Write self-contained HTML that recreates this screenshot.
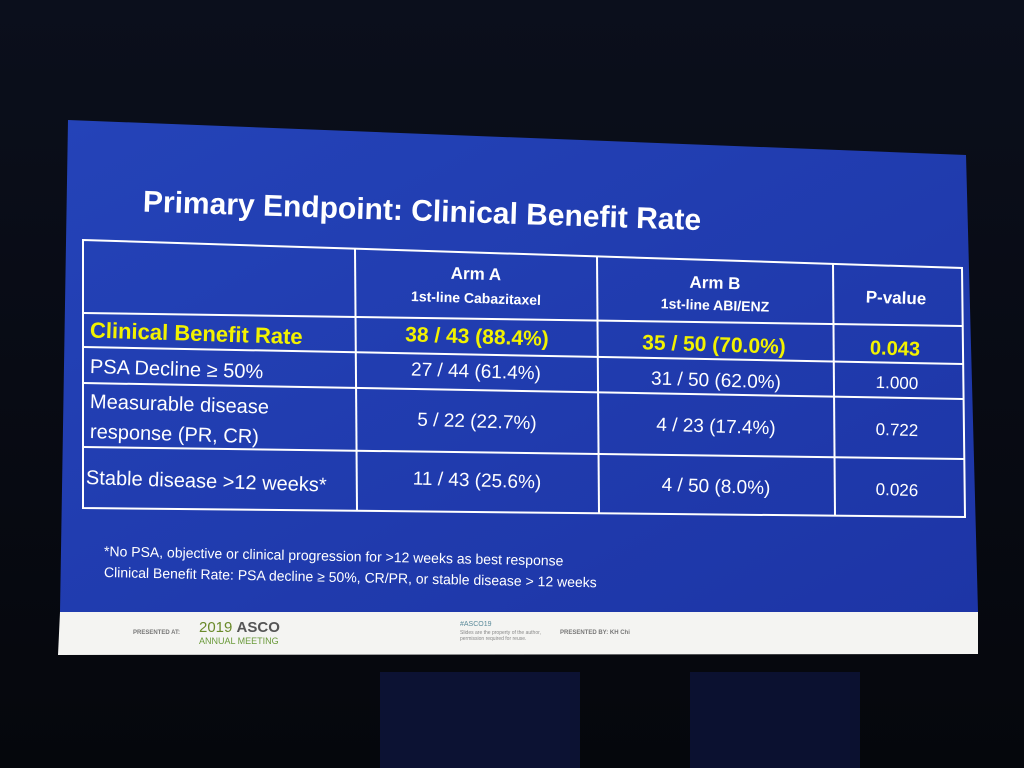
<!DOCTYPE html>
<html><head><meta charset="utf-8"><style>
html,body{margin:0;padding:0;background:#07090f;width:1024px;height:768px;overflow:hidden}
svg{display:block}
text{font-family:"Liberation Sans",sans-serif;fill:#fff}
</style></head><body>
<svg width="1024" height="768" viewBox="0 0 1024 768">
<defs>
<linearGradient id="bg" x1="0" y1="0" x2="0" y2="1"><stop offset="0" stop-color="#0b0f1c"/><stop offset="1" stop-color="#05070c"/></linearGradient>
<linearGradient id="sl" x1="0" y1="0" x2="1" y2="1"><stop offset="0" stop-color="#2443b8"/><stop offset="1" stop-color="#1d35a6"/></linearGradient>
</defs>
<rect width="1024" height="768" fill="url(#bg)"/>
<rect x="380" y="672" width="200" height="96" fill="#0c1233"/>
<rect x="690" y="672" width="170" height="96" fill="#0b1130"/>
<polygon points="68,120 966,155 978,612 60,612" fill="url(#sl)"/>
<polygon points="60,612 978,612 978,654 58,655" fill="#f4f4f2"/>

<g stroke="#fff" stroke-width="2" fill="none">
<polygon points="83,240 962,268 965,517 83,508"/>
<line x1="355" y1="249" x2="357" y2="511"/>
<line x1="597" y1="256" x2="599" y2="513"/>
<line x1="833" y1="264" x2="835" y2="516"/>
<line x1="83" y1="313" x2="962" y2="326"/>
<line x1="83" y1="347" x2="963" y2="364"/>
<line x1="83" y1="383" x2="963" y2="399"/>
<line x1="83" y1="447" x2="964" y2="459"/>
</g>

<text x="143" y="202" font-size="30" font-weight="bold" dominant-baseline="central" transform="rotate(1.9 143 202)">Primary Endpoint: Clinical Benefit Rate</text>

<g font-weight="bold" text-anchor="middle" dominant-baseline="central">
<text x="476" y="274" font-size="17" transform="rotate(1.8 476 274)">Arm A</text>
<text x="476" y="298" font-size="14" transform="rotate(1.8 476 298)">1st-line Cabazitaxel</text>
<text x="715" y="283" font-size="17" transform="rotate(1.8 715 283)">Arm B</text>
<text x="715" y="305" font-size="14" transform="rotate(1.8 715 305)">1st-line ABI/ENZ</text>
<text x="896" y="298" font-size="17" transform="rotate(1.8 896 298)">P-value</text>
</g>

<g font-weight="bold" dominant-baseline="central">
<text x="90" y="330" font-size="22" style="fill:#f2f200" transform="rotate(1.8 90 330)">Clinical Benefit Rate</text>
<text x="477" y="337" font-size="21" text-anchor="middle" style="fill:#f2f200" transform="rotate(1.8 477 337)">38 / 43 (88.4%)</text>
<text x="714" y="345" font-size="21" text-anchor="middle" style="fill:#f2f200" transform="rotate(1.8 714 345)">35 / 50 (70.0%)</text>
<text x="895" y="349" font-size="20" text-anchor="middle" style="fill:#f2f200" transform="rotate(1.8 895 349)">0.043</text>
</g>

<g dominant-baseline="central" font-size="20">
<text x="90" y="367" transform="rotate(1.8 90 367)">PSA Decline ≥ 50%</text>
<text x="476" y="372" font-size="19" text-anchor="middle" transform="rotate(1.8 476 372)">27 / 44 (61.4%)</text>
<text x="716" y="381" font-size="19" text-anchor="middle" transform="rotate(1.8 716 381)">31 / 50 (62.0%)</text>
<text x="897" y="383" font-size="17" text-anchor="middle" transform="rotate(1.8 897 383)">1.000</text>

<text x="90" y="402" transform="rotate(1.8 90 402)">Measurable disease</text>
<text x="90" y="432" transform="rotate(1.8 90 432)">response (PR, CR)</text>
<text x="477" y="422" font-size="19" text-anchor="middle" transform="rotate(1.8 477 422)">5 / 22 (22.7%)</text>
<text x="716" y="427" font-size="19" text-anchor="middle" transform="rotate(1.8 716 427)">4 / 23 (17.4%)</text>
<text x="897" y="430" font-size="17" text-anchor="middle" transform="rotate(1.8 897 430)">0.722</text>

<text x="86" y="478" transform="rotate(1.8 86 478)">Stable disease &gt;12 weeks*</text>
<text x="477" y="481" font-size="19" text-anchor="middle" transform="rotate(1.8 477 481)">11 / 43 (25.6%)</text>
<text x="716" y="487" font-size="19" text-anchor="middle" transform="rotate(1.8 716 487)">4 / 50 (8.0%)</text>
<text x="897" y="490" font-size="17" text-anchor="middle" transform="rotate(1.8 897 490)">0.026</text>
</g>

<g font-size="14" dominant-baseline="central">
<text x="104" y="551" transform="rotate(1.2 104 551)">*No PSA, objective or clinical progression for &gt;12 weeks as best response</text>
<text x="104" y="572" transform="rotate(1.2 104 572)">Clinical Benefit Rate: PSA decline ≥ 50%, CR/PR, or stable disease &gt; 12 weeks</text>
</g>

<g>
<text x="133" y="634" font-size="6" style="fill:#777" font-weight="bold">PRESENTED AT:</text>
<text x="199" y="632" font-size="15" style="fill:#6a8a2a">2019 <tspan font-weight="bold" style="fill:#555">ASCO</tspan></text>
<text x="199" y="644" font-size="9" style="fill:#6a9a3a">ANNUAL MEETING</text>
<text x="460" y="626" font-size="7" style="fill:#5a8a9a">#ASCO19</text>
<text x="460" y="634" font-size="5" style="fill:#888">Slides are the property of the author,</text>
<text x="460" y="640" font-size="5" style="fill:#888">permission required for reuse.</text>
<text x="560" y="634" font-size="6" style="fill:#777" font-weight="bold">PRESENTED BY: KH Chi</text>
</g>
</svg>
</body></html>
